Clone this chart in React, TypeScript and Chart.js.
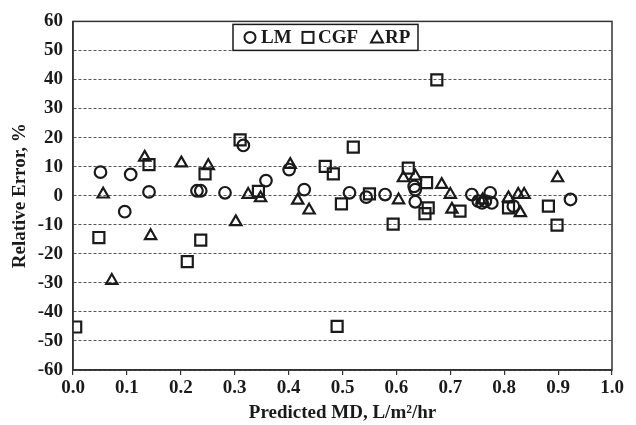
import { useEffect, useRef } from "react";
import { Chart, registerables } from "chart.js";

Chart.register(...registerables);

// ---- Data ----
const lmX = [0.051, 0.096, 0.107, 0.141, 0.230, 0.237, 0.282, 0.316, 0.358, 0.401, 0.429, 0.513, 0.544, 0.579, 0.633, 0.635, 0.635, 0.740, 0.752, 0.759, 0.765, 0.774, 0.777, 0.817, 0.923];
const lmY = [8.1, -5.5, 7.3, 1.3, 1.7, 1.7, 1.0, 17.3, 5.2, 9.0, 2.1, 1.0, -0.5, 0.4, 3.2, 2.1, -2.1, 0.4, -1.9, -2.5, -1.9, 1.0, -2.5, -3.6, -1.3];

const cgfX = [0.005, 0.048, 0.141, 0.212, 0.237, 0.245, 0.310, 0.344, 0.468, 0.483, 0.490, 0.498, 0.520, 0.550, 0.594, 0.622, 0.656, 0.653, 0.659, 0.675, 0.718, 0.808, 0.882, 0.898];
const cgfY = [-45.2, -14.4, 10.7, -22.7, -15.3, 7.5, 19.2, 1.5, 10.1, 7.5, -45.0, -2.8, 16.7, 0.6, -9.8, 9.5, 4.5, -6.2, -4.2, 39.9, -5.3, -4.2, -3.6, -10.1];

const rpX = [0.056, 0.072, 0.133, 0.144, 0.201, 0.251, 0.302, 0.325, 0.348, 0.403, 0.417, 0.438, 0.604, 0.613, 0.635, 0.684, 0.700, 0.703, 0.760, 0.808, 0.826, 0.837, 0.830, 0.899];
const rpY = [0.5, -29.2, 13.2, -13.8, 11.2, 10.3, -9.0, 0.4, -0.8, 10.7, -1.6, -5.0, -1.5, 6.1, 6.7, 3.8, 0.4, -4.7, -1.5, -0.8, 0.4, 0.4, -5.9, 6.1];

const seriesNames = ["LM", "CGF", "RP"];
const xTickLabels = ["0.0", "0.1", "0.2", "0.3", "0.4", "0.5", "0.6", "0.7", "0.8", "0.9", "1.0"];
const yTickValues = [-60, -50, -40, -30, -20, -10, 0, 10, 20, 30, 40, 50, 60];
const xTitle = "Predicted MD, L/m\u00B2/hr";
const yTitle = "Relative Error, %";

const FONT = "'Liberation Serif', 'Times New Roman', serif";
const INK = "#1a1a1a";

const toPoints = (xs: number[], ys: number[]) => xs.map((x, i) => ({ x, y: ys[i] }));

const frameAndLegend = {
  id: "frameAndLegend",
  afterDatasetsDraw(chart: any) {
    const ctx = chart.ctx as CanvasRenderingContext2D;
    const { left, top, right, bottom } = chart.chartArea;
    ctx.save();
    // plot frame
    ctx.strokeStyle = "#333";
    ctx.lineWidth = 1.5;
    ctx.strokeRect(left, top, right - left, bottom - top);

    // legend box
    const bx = left + 160;
    const by = top + 3;
    const bw = 185;
    const bh = 26;
    ctx.fillStyle = "#fff";
    ctx.fillRect(bx, by, bw, bh);
    ctx.strokeStyle = INK;
    ctx.lineWidth = 1.5;
    ctx.strokeRect(bx, by, bw, bh);

    const cy = by + bh / 2;
    ctx.lineWidth = 2;
    ctx.strokeStyle = INK;
    // circle
    ctx.beginPath();
    ctx.arc(bx + 17, cy, 5.5, 0, Math.PI * 2);
    ctx.stroke();
    // square
    ctx.strokeRect(bx + 75 - 5.5, cy - 5.5, 11, 11);
    // triangle
    const tx = bx + 144;
    ctx.beginPath();
    ctx.moveTo(tx, cy - 6);
    ctx.lineTo(tx + 6, cy + 5);
    ctx.lineTo(tx - 6, cy + 5);
    ctx.closePath();
    ctx.stroke();

    ctx.fillStyle = INK;
    ctx.font = `bold 19px ${FONT}`;
    ctx.textBaseline = "middle";
    ctx.textAlign = "left";
    ctx.fillText(seriesNames[0], bx + 28, cy + 1);
    ctx.fillText(seriesNames[1], bx + 85, cy + 1);
    ctx.fillText(seriesNames[2], bx + 152, cy + 1);
    ctx.restore();
  },
};

export default function App() {
  const ref = useRef<HTMLCanvasElement | null>(null);

  useEffect(() => {
    document.body.style.margin = "0";
    const canvas = ref.current;
    if (!canvas) return;
    const pointCommon = {
      backgroundColor: "rgba(0,0,0,0)",
      borderColor: INK,
      pointBorderWidth: 2.2,
      showLine: false,
    };
    const chart = new Chart(canvas, {
      type: "scatter",
      data: {
        datasets: [
          { label: seriesNames[0], data: toPoints(lmX, lmY), pointStyle: "circle", pointRadius: 5.8, ...pointCommon },
          { label: seriesNames[1], data: toPoints(cgfX, cgfY), pointStyle: "rect", pointRadius: 7.8, ...pointCommon },
          { label: seriesNames[2], data: toPoints(rpX, rpY), pointStyle: "triangle", pointRadius: 6.5, ...pointCommon },
        ],
      },
      options: {
        responsive: false,
        animation: false,
        events: [],
        layout: { padding: { top: 19, right: 24, left: 0, bottom: 0 } },
        plugins: {
          legend: { display: false },
          tooltip: { enabled: false },
        },
        scales: {
          x: {
            type: "linear",
            min: 0,
            max: 1,
            afterFit: (s: any) => {
              s.height = 55;
            },
            afterBuildTicks: (s: any) => {
              s.ticks = xTickLabels.map((l) => ({ value: parseFloat(l) }));
            },
            ticks: {
              color: INK,
              font: { family: FONT, size: 19, weight: "bold" },
              padding: 2,
              maxRotation: 0,
              autoSkip: false,
              callback: (v: any, i: number) => xTickLabels[i],
            },
            grid: {
              drawOnChartArea: false,
              drawTicks: true,
              tickLength: 5,
              color: "#333",
              lineWidth: 1.2,
            },
            border: { display: true, color: "#333", width: 1.5 },
            title: {
              display: true,
              text: xTitle,
              color: INK,
              font: { family: FONT, size: 19, weight: "bold" },
              padding: { top: 0, bottom: 1 },
            },
          },
          y: {
            type: "linear",
            min: -60,
            max: 60,
            afterFit: (s: any) => {
              s.width = 73;
            },
            afterBuildTicks: (s: any) => {
              s.ticks = yTickValues.map((v) => ({ value: v }));
            },
            ticks: {
              color: INK,
              font: { family: FONT, size: 19, weight: "bold" },
              padding: 10,
              autoSkip: false,
            },
            grid: {
              drawTicks: false,
              color: "#555",
              lineWidth: 1,
            },
            border: { display: true, color: "#333", width: 1.5, dash: [3, 2] },
            title: {
              display: true,
              text: yTitle,
              color: INK,
              font: { family: FONT, size: 19, weight: "bold" },
              padding: { top: 9, bottom: 0 },
            },
          },
        },
      },
      plugins: [frameAndLegend],
    });
    return () => chart.destroy();
  }, []);

  return <canvas ref={ref} width={636} height={425} style={{ display: "block" }} />;
}
